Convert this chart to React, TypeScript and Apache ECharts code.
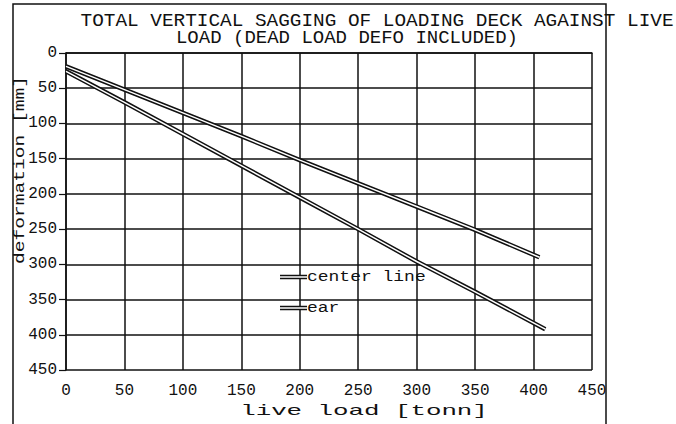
import React, { useEffect, useRef } from "react";
import * as echarts from "echarts";

const titleLine1 = "TOTAL VERTICAL SAGGING OF LOADING DECK AGAINST LIVE";
const titleLine2 = "LOAD (DEAD LOAD DEFO INCLUDED)";
const xAxisName = "live load [tonn]";
const yAxisName = "deformation [mm]";
const seriesNames = ["center line", "ear"];

const centerX = [0, 50, 100, 150, 200, 250, 300, 350, 405];
const centerY = [19, 52, 85, 118, 152, 185, 218, 251, 290];
const earX = [0, 50, 100, 150, 200, 250, 300, 350, 410];
const earY = [26, 70, 115, 160, 205, 250, 296, 339, 392];

const INK = "#111";
const MONO = "'Liberation Mono', 'DejaVu Sans Mono', monospace";

function pairs(xs: number[], ys: number[]) {
  return xs.map((x, i) => [x, ys[i]]);
}

export default function App() {
  const ref = useRef<HTMLDivElement>(null);
  useEffect(() => {
    if (!ref.current) return;
    const chart = echarts.init(ref.current, null, { renderer: "svg" });
    const doubleLine = (name: string, data: number[][]) => [
      {
        name,
        type: "line",
        data,
        showSymbol: false,
        symbol: "none",
        lineStyle: { color: INK, width: 4.5 },
        z: 3,
      },
      {
        name: name + " ",
        type: "line",
        data,
        showSymbol: false,
        symbol: "none",
        lineStyle: { color: "#fff", width: 1.5 },
        z: 4,
      },
    ];
    const legendItem = (y: number, label: string) => [
      {
        type: "line",
        shape: { x1: 280, y1: y, x2: 307, y2: y },
        style: { stroke: INK, lineWidth: 4.5 },
        z: 10,
      },
      {
        type: "line",
        shape: { x1: 280, y1: y, x2: 307, y2: y },
        style: { stroke: "#fff", lineWidth: 1.5 },
        z: 11,
      },
      {
        type: "text",
        x: 307,
        y,
        scaleX: 1.2,
        style: {
          text: label,
          font: `15px ${MONO}`,
          fill: INK,
          textAlign: "left",
          textVerticalAlign: "middle",
        },
        z: 11,
      },
    ];
    chart.setOption({
      animation: false,
      backgroundColor: "#fff",
      grid: { left: 66, top: 53, width: 526, height: 317 },
      xAxis: {
        type: "value",
        min: 0,
        max: 450,
        interval: 50,
        axisLine: { show: true, lineStyle: { color: INK, width: 1.5 } },
        axisTick: { show: false },
        axisLabel: { color: INK, fontFamily: MONO, fontSize: 16, margin: 13 },
        splitLine: { show: true, lineStyle: { color: INK, width: 1.5 } },
      },
      yAxis: {
        type: "value",
        inverse: true,
        min: 0,
        max: 450,
        interval: 50,
        axisLine: { show: true, lineStyle: { color: INK, width: 1.5 } },
        axisTick: { show: true, length: 7, lineStyle: { color: INK, width: 1.2 } },
        axisLabel: { color: INK, fontFamily: MONO, fontSize: 16, margin: 9 },
        splitLine: { show: true, lineStyle: { color: INK, width: 1.5 } },
      },
      series: [
        ...doubleLine(seriesNames[0], pairs(centerX, centerY)),
        ...doubleLine(seriesNames[1], pairs(earX, earY)),
      ],
      graphic: [
        {
          type: "polyline",
          shape: { points: [[13, 424], [13, 4], [606, 4], [606, 424]] },
          style: { stroke: INK, lineWidth: 1.5, fill: "none" },
          z: 20,
        },
        {
          type: "text",
          x: 377,
          y: 21,
          scaleX: 1.02,
          style: {
            text: titleLine1,
            font: `19px ${MONO}`,
            fill: INK,
            textAlign: "center",
            textVerticalAlign: "middle",
          },
        },
        {
          type: "text",
          x: 347,
          y: 38,
          scaleX: 1.0,
          style: {
            text: titleLine2,
            font: `19px ${MONO}`,
            fill: INK,
            textAlign: "center",
            textVerticalAlign: "middle",
          },
        },
        {
          type: "text",
          x: 364,
          y: 411,
          scaleX: 1.72,
          style: {
            text: xAxisName,
            font: `15px ${MONO}`,
            fill: INK,
            textAlign: "center",
            textVerticalAlign: "middle",
          },
        },
        {
          type: "text",
          x: 20,
          y: 170,
          rotation: Math.PI / 2,
          scaleX: 1.4,
          style: {
            text: yAxisName,
            font: `14px ${MONO}`,
            fill: INK,
            textAlign: "center",
            textVerticalAlign: "middle",
          },
        },
        ...legendItem(277, seriesNames[0]),
        ...legendItem(308, seriesNames[1]),
      ],
    });
    return () => chart.dispose();
  }, []);
  return (
    <div
      ref={ref}
      style={{ position: "absolute", left: 0, top: 0, width: 676, height: 424 }}
    />
  );
}
